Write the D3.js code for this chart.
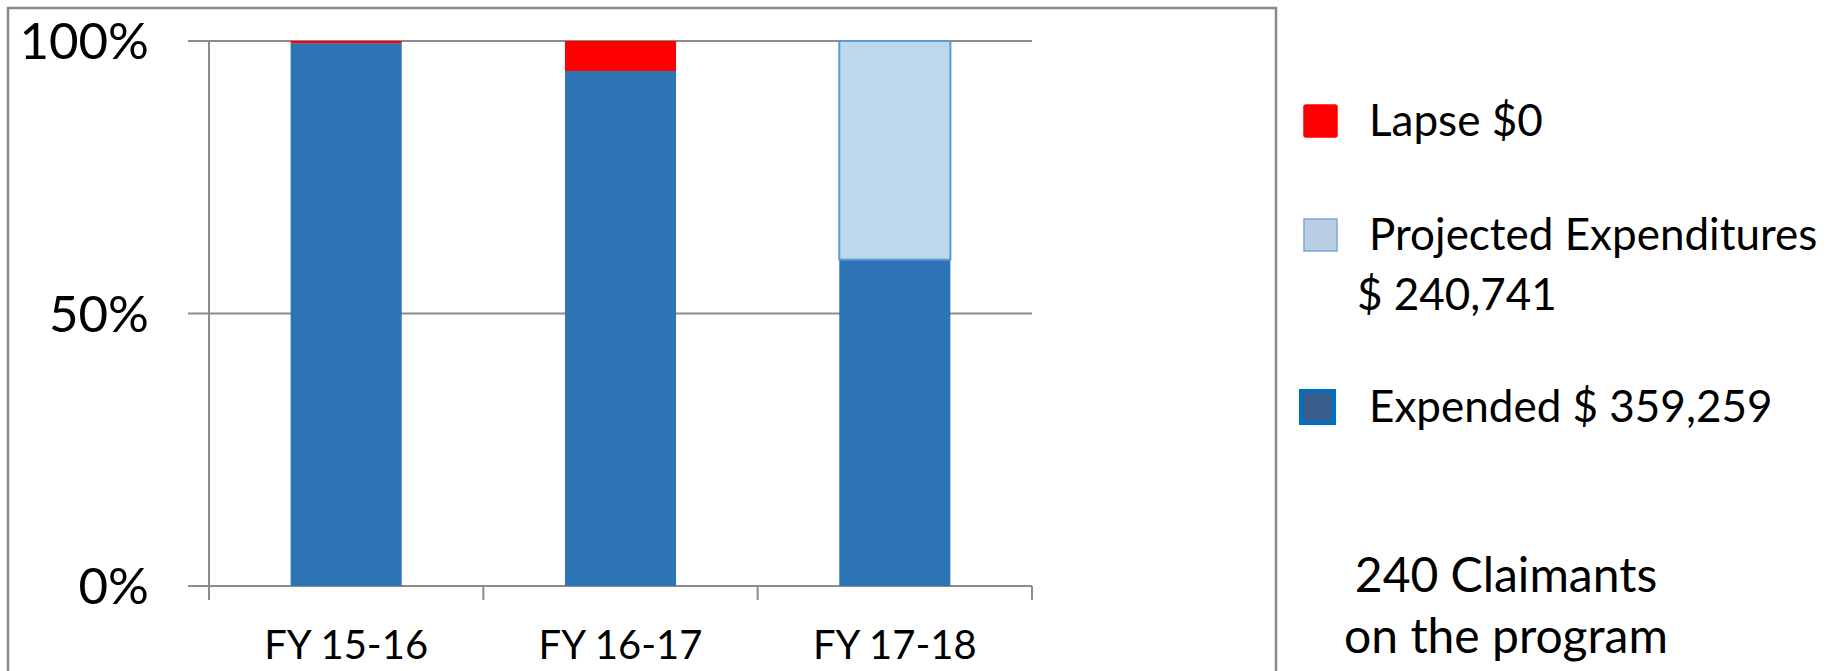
<!DOCTYPE html>
<html>
<head>
<meta charset="utf-8">
<script src="https://cdn.jsdelivr.net/npm/d3@7"></script>
<style>
  body { margin: 0; background: #fff; }
  svg { display: block; font-family: Lato, "Open Sans", sans-serif; }
</style>
</head>
<body>
<div id="grafico"></div>
<script>
const categorias = ['FY 15-16', 'FY 16-17', 'FY 17-18'];
const expended = [99.6, 94.5, 59.88];
const projected = [0, 0, 40.12];
const lapse = [0.4, 5.5, 0];
const yTicks = [0, 50, 100];

const leyenda = [
  { key: 'lapse', lineas: ['Lapse $0'] },
  { key: 'projected', lineas: ['Projected Expenditures', '$ 240,741'] },
  { key: 'expended', lineas: ['Expended $ 359,259'] }
];
const nota = ['240 Claimants', 'on the program'];

const colores = {
  expended: { fill: '#2e75b6', stroke: '#2e75b6' },
  projected: { fill: '#bdd7ee', stroke: '#5b9bd5' },
  lapse: { fill: '#ff0000', stroke: '#ff0000' }
};
const coloresLeyenda = {
  lapse: { fill: '#ff0000', stroke: '#ff0000' },
  projected: { fill: '#b9cde5', stroke: '#7ea6d8' },
  expended: { fill: '#385d8a', stroke: '#0070c0' }
};

const width = 1839, height = 671;
const svg = d3.select('#grafico').append('svg')
  .attr('width', width).attr('height', height);

// marco del grafico
svg.append('rect')
  .attr('x', 8).attr('y', 8)
  .attr('width', 1268).attr('height', 720)
  .attr('fill', 'none')
  .attr('stroke', '#898989')
  .attr('stroke-width', 2.5);

const plot = { left: 209, right: 1032, top: 41, bottom: 586 };

const x = d3.scaleBand()
  .domain(categorias)
  .range([plot.left, plot.right])
  .paddingInner(0.595)
  .paddingOuter(0.2975);

const y = d3.scaleLinear()
  .domain([0, 100])
  .range([plot.bottom, plot.top]);

const filas = categorias.map((c, i) => ({
  cat: c, expended: expended[i], projected: projected[i], lapse: lapse[i]
}));
const series = d3.stack().keys(['expended', 'projected', 'lapse'])(filas);

// lineas de cuadricula
svg.append('g')
  .selectAll('line')
  .data(yTicks)
  .join('line')
  .attr('x1', plot.left - 21)
  .attr('x2', plot.right)
  .attr('y1', d => y(d))
  .attr('y2', d => y(d))
  .attr('stroke', '#8c8c8c')
  .attr('stroke-width', 2);

// eje y
svg.append('line')
  .attr('x1', plot.left).attr('x2', plot.left)
  .attr('y1', plot.top).attr('y2', plot.bottom + 14)
  .attr('stroke', '#8c8c8c').attr('stroke-width', 2);

svg.append('g')
  .selectAll('text')
  .data(yTicks)
  .join('text')
  .attr('x', 149)
  .attr('y', d => y(d))
  .attr('dy', '0.36em')
  .attr('text-anchor', 'end')
  .style('font-size', '51px')
  .text(d => d + '%');

// marcas del eje x
const limites = d3.range(categorias.length + 1).map(i => plot.left + i * x.step());
svg.append('g')
  .selectAll('line')
  .data(limites)
  .join('line')
  .attr('x1', d => d).attr('x2', d => d)
  .attr('y1', plot.bottom).attr('y2', plot.bottom + 14)
  .attr('stroke', '#8c8c8c').attr('stroke-width', 2);

svg.append('g')
  .selectAll('text')
  .data(categorias)
  .join('text')
  .attr('x', d => x(d) + x.bandwidth() / 2)
  .attr('y', 659)
  .attr('text-anchor', 'middle')
  .style('font-size', '40px')
  .text(d => d);

// barras apiladas
svg.append('g')
  .selectAll('g')
  .data(series)
  .join('g')
  .each(function(s) {
    const c = colores[s.key];
    d3.select(this).selectAll('rect')
      .data(s.filter(d => d[1] - d[0] > 0))
      .join('rect')
      .attr('x', d => x(d.data.cat))
      .attr('width', x.bandwidth())
      .attr('y', d => y(d[1]))
      .attr('height', d => y(d[0]) - y(d[1]))
      .attr('fill', c.fill)
      .attr('stroke', s.key === 'projected' ? c.stroke : 'none')
      .attr('stroke-width', 2);
  });

// leyenda
const posLeyenda = [121, 235, 407];
leyenda.forEach((item, i) => {
  const c = coloresLeyenda[item.key];
  const cy = posLeyenda[i];
  svg.append('rect')
    .attr('x', item.key === 'expended' ? 1301 : 1304)
    .attr('y', cy - 16)
    .attr('width', 33)
    .attr('height', 32)
    .attr('rx', item.key === 'lapse' ? 2 : 0)
    .attr('fill', c.fill)
    .attr('stroke', c.stroke)
    .attr('stroke-width', item.key === 'expended' ? 4 : 1.5);

  item.lineas.forEach((t, j) => {
    svg.append('text')
      .attr('x', j === 0 ? 1369 : 1357)
      .attr('y', cy + 15 + j * 60)
      .style('font-size', '44px')
      .text(t);
  });
});

svg.append('g')
  .selectAll('text')
  .data(nota)
  .join('text')
  .attr('x', 1506)
  .attr('y', (d, i) => 592 + i * 61)
  .attr('text-anchor', 'middle')
  .style('font-size', '48px')
  .text(d => d);
</script>
</body>
</html>
